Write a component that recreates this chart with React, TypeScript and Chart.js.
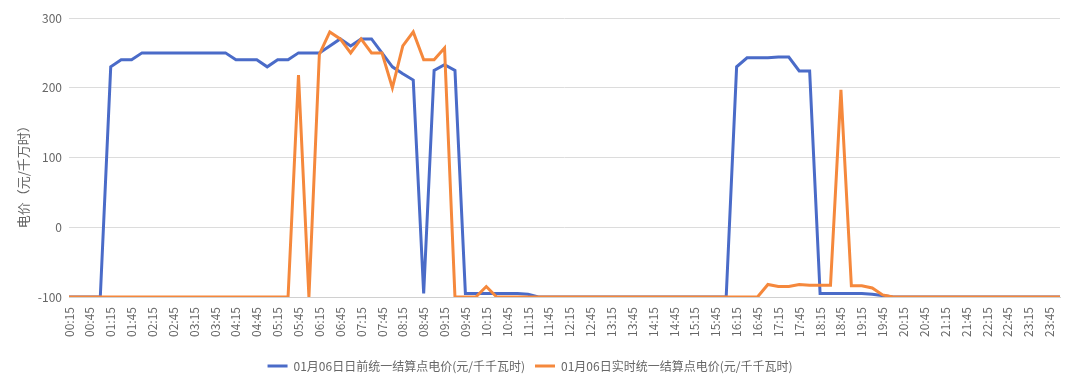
import React, { useEffect, useRef } from "react";
import { Chart, registerables } from "chart.js";

Chart.register(...registerables);

const times = [
  "00:15", "00:30", "00:45", "01:00", "01:15", "01:30", "01:45", "02:00",
  "02:15", "02:30", "02:45", "03:00", "03:15", "03:30", "03:45", "04:00",
  "04:15", "04:30", "04:45", "05:00", "05:15", "05:30", "05:45", "06:00",
  "06:15", "06:30", "06:45", "07:00", "07:15", "07:30", "07:45", "08:00",
  "08:15", "08:30", "08:45", "09:00", "09:15", "09:30", "09:45", "10:00",
  "10:15", "10:30", "10:45", "11:00", "11:15", "11:30", "11:45", "12:00",
  "12:15", "12:30", "12:45", "13:00", "13:15", "13:30", "13:45", "14:00",
  "14:15", "14:30", "14:45", "15:00", "15:15", "15:30", "15:45", "16:00",
  "16:15", "16:30", "16:45", "17:00", "17:15", "17:30", "17:45", "18:00",
  "18:15", "18:30", "18:45", "19:00", "19:15", "19:30", "19:45", "20:00",
  "20:15", "20:30", "20:45", "21:00", "21:15", "21:30", "21:45", "22:00",
  "22:15", "22:30", "22:45", "23:00", "23:15", "23:30", "23:45", "24:00",
];

const dayAheadPrice = [
  -100, -100, -100, -100, 230, 240, 240, 250,
  250, 250, 250, 250, 250, 250, 250, 250,
  240, 240, 240, 230, 240, 240, 250, 250,
  250, 260, 270, 260, 270, 270, 250, 230,
  220, 211, -95, 225, 233, 225, -95, -95,
  -95, -95, -95, -95, -96, -100, -100, -100,
  -100, -100, -100, -100, -100, -100, -100, -100,
  -100, -100, -100, -100, -100, -100, -100, -100,
  230, 243, 243, 243, 244, 244, 224, 224,
  -95, -95, -95, -95, -95, -96, -98, -100,
  -100, -100, -100, -100, -100, -100, -100, -100,
  -100, -100, -100, -100, -100, -100, -100, -100,
];

const realTimePrice = [
  -100, -100, -100, -100, -100, -100, -100, -100,
  -100, -100, -100, -100, -100, -100, -100, -100,
  -100, -100, -100, -100, -100, -100, 218, -100,
  248, 280, 270, 250, 270, 250, 250, 200,
  260, 280, 240, 240, 257, -100, -100, -100,
  -85, -100, -100, -100, -100, -100, -100, -100,
  -100, -100, -100, -100, -100, -100, -100, -100,
  -100, -100, -100, -100, -100, -100, -100, -100,
  -100, -100, -100, -82, -85, -85, -82, -83,
  -83, -83, 197, -84, -84, -87, -97, -100,
  -100, -100, -100, -100, -100, -100, -100, -100,
  -100, -100, -100, -100, -100, -100, -100, -100,
];

const seriesNames = [
  "01月06日日前统一结算点电价(元/千千瓦时)",
  "01月06日实时统一结算点电价(元/千千瓦时)",
];
const seriesColors = ["#4a6bc8", "#f5883c"];
const yAxisTitle = "电价（元/千万时）\u3000\u3000\u3000";
const yMin = -100;
const yMax = 300;
const yStep = 100;

const FONT = "'Noto Sans CJK SC', 'Noto Sans', sans-serif";

export default function App() {
  const canvasRef = useRef<HTMLCanvasElement | null>(null);

  useEffect(() => {
    if (!canvasRef.current) return;
    const chart = new Chart(canvasRef.current, {
      type: "line",
      data: {
        labels: times,
        datasets: [
          {
            label: seriesNames[0],
            data: dayAheadPrice,
            borderColor: seriesColors[0],
            backgroundColor: seriesColors[0],
            borderWidth: 3,
            pointRadius: 0,
            tension: 0,
            order: 1,
          },
          {
            label: seriesNames[1],
            data: realTimePrice,
            borderColor: seriesColors[1],
            backgroundColor: seriesColors[1],
            borderWidth: 3,
            pointRadius: 0,
            tension: 0,
            order: 0,
          },
        ],
      },
      options: {
        animation: false,
        responsive: true,
        maintainAspectRatio: false,
        layout: { padding: { left: 0, right: 16, top: 18, bottom: -3 } },
        plugins: {
          tooltip: { enabled: false },
          legend: {
            position: "bottom",
            labels: {
              boxWidth: 20,
              boxHeight: 3,
              padding: 10,
              color: "#666",
              font: { family: FONT, size: 12 },
              sort: (a: any, b: any) => a.datasetIndex - b.datasetIndex,
              generateLabels: (c: any) =>
                Chart.defaults.plugins.legend.labels
                  .generateLabels(c)
                  .map((l: any) => ({ ...l, fillStyle: l.strokeStyle, lineWidth: 0 })),
            },
          },
        },
        scales: {
          x: {
            type: "category",
            offset: false,
            grid: { display: false, drawTicks: false },
            border: { display: true, color: "#d0d0d0", width: 1 },
            ticks: {
              autoSkip: false,
              maxRotation: 90,
              minRotation: 90,
              padding: 10,
              color: "#666",
              font: { family: FONT, size: 12 },
              callback: (_v: any, i: number) => (i % 2 === 0 ? times[i] : ""),
            },
            afterFit: (scale: any) => {
              scale.height = 53;
              scale.paddingLeft = 0;
              scale.paddingRight = 0;
            },
          },
          y: {
            min: yMin,
            max: yMax,
            grid: { color: "#dcdcdc", drawTicks: false },
            border: { display: false },
            ticks: {
              stepSize: yStep,
              padding: 7,
              color: "#666",
              font: { family: FONT, size: 12 },
            },
            title: {
              display: true,
              text: yAxisTitle,
              color: "#666",
              font: { family: FONT, size: 13 },
              padding: { top: 15, bottom: 0 },
            },
            afterFit: (scale: any) => {
              scale.width = 69;
            },
          },
        },
      },
    });
    return () => chart.destroy();
  }, []);

  return (
    <div style={{ position: "fixed", left: 0, top: 0, width: 1076, height: 379, background: "#fff" }}>
      <canvas ref={canvasRef} />
    </div>
  );
}
